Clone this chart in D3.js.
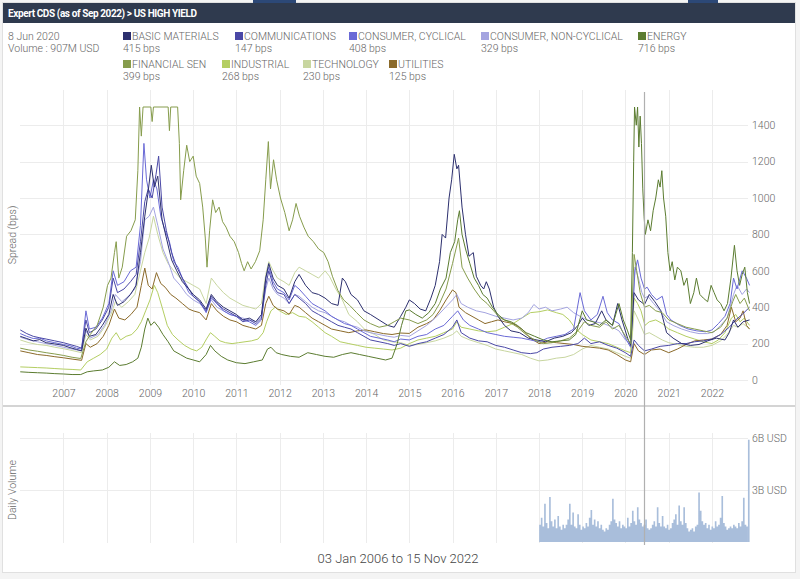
<!DOCTYPE html>
<html><head><meta charset="utf-8">
<script src="https://cdn.jsdelivr.net/npm/d3@7"></script>
<style>
html,body{margin:0;padding:0;background:#fff;}
svg{display:block;font-family:Roboto,"Open Sans",sans-serif;}
.lt{font-weight:300;}
</style></head>
<body>
<svg id="chart" width="800" height="579"></svg>
<script>
// ---------- DATA ----------
const seriesNames = ["BASIC MATERIALS","COMMUNICATIONS","CONSUMER, CYCLICAL","CONSUMER, NON-CYCLICAL","ENERGY","FINANCIAL SEN","INDUSTRIAL","TECHNOLOGY","UTILITIES"];
const legendValues = ["415 bps","147 bps","408 bps","329 bps","716 bps","399 bps","268 bps","230 bps","125 bps"];
const seriesColors = ["#2c2f6e","#4a48a6","#6a6ad6","#a4a4e0","#5b7c30","#869c4c","#b4ce62","#c8d6a0","#8b6a2a"];

const BASIC_MATERIALS = [[2006.00,240],[2006.15,228],[2006.30,215],[2006.45,222],[2006.60,205],[2006.80,198],[2007.00,190],[2007.15,178],[2007.30,168],[2007.42,160],[2007.52,285],[2007.60,240],[2007.75,250],[2007.90,300],[2008.05,360],[2008.15,470],[2008.25,410],[2008.40,430],[2008.55,470],[2008.68,520],[2008.78,700],[2008.88,900],[2008.95,1020],[2009.03,1180],[2009.10,1060],[2009.18,1120],[2009.28,880],[2009.38,780],[2009.50,660],[2009.62,600],[2009.75,540],[2009.90,500],[2010.00,470],[2010.15,440],[2010.30,390],[2010.42,470],[2010.55,430],[2010.70,400],[2010.85,380],[2011.00,360],[2011.15,330],[2011.30,340],[2011.45,320],[2011.58,360],[2011.68,560],[2011.75,640],[2011.85,560],[2011.95,520],[2012.10,500],[2012.22,450],[2012.35,540],[2012.45,580],[2012.60,520],[2012.75,480],[2012.90,470],[2013.05,450],[2013.20,420],[2013.35,410],[2013.45,560],[2013.52,540],[2013.65,470],[2013.80,440],[2013.95,380],[2014.10,360],[2014.30,330],[2014.50,300],[2014.65,290],[2014.80,350],[2014.92,400],[2015.00,440],[2015.12,420],[2015.25,390],[2015.38,380],[2015.50,450],[2015.60,520],[2015.70,650],[2015.76,800],[2015.84,780],[2015.92,1000],[2015.98,1100],[2016.04,1240],[2016.10,1160],[2016.14,1180],[2016.22,950],[2016.30,800],[2016.38,680],[2016.48,700],[2016.55,570],[2016.65,520],[2016.72,500],[2016.78,540],[2016.85,500],[2016.95,400],[2017.05,350],[2017.20,300],[2017.35,270],[2017.55,260],[2017.75,230],[2017.95,220],[2018.15,210],[2018.35,230],[2018.55,240],[2018.75,260],[2018.90,300],[2019.00,340],[2019.15,300],[2019.30,310],[2019.45,380],[2019.55,330],[2019.70,300],[2019.82,420],[2019.92,330],[2020.05,230],[2020.12,190],[2020.20,480],[2020.30,440],[2020.44,415],[2020.55,470],[2020.68,430],[2020.82,380],[2020.95,260],[2021.10,230],[2021.30,200],[2021.50,190],[2021.70,195],[2021.90,215],[2022.10,230],[2022.30,220],[2022.40,260],[2022.50,330],[2022.60,290],[2022.72,320],[2022.87,330]];

const COMMUNICATIONS = [[2006.00,275],[2006.15,255],[2006.30,240],[2006.45,232],[2006.60,225],[2006.80,215],[2007.00,205],[2007.15,195],[2007.30,185],[2007.42,175],[2007.52,330],[2007.60,260],[2007.75,280],[2007.90,330],[2008.05,400],[2008.15,560],[2008.25,480],[2008.40,500],[2008.55,540],[2008.68,580],[2008.78,760],[2008.88,980],[2008.96,1050],[2009.05,1000],[2009.14,1130],[2009.20,1230],[2009.28,950],[2009.38,820],[2009.50,700],[2009.62,620],[2009.75,560],[2009.90,500],[2010.00,460],[2010.15,430],[2010.30,380],[2010.42,460],[2010.55,420],[2010.70,390],[2010.85,370],[2011.00,350],[2011.15,320],[2011.30,330],[2011.45,310],[2011.58,340],[2011.68,520],[2011.75,600],[2011.85,520],[2011.95,480],[2012.10,470],[2012.22,420],[2012.35,470],[2012.45,450],[2012.60,420],[2012.75,380],[2012.90,360],[2013.05,340],[2013.20,320],[2013.35,300],[2013.50,290],[2013.65,280],[2013.80,260],[2013.95,240],[2014.10,220],[2014.30,210],[2014.50,200],[2014.65,190],[2014.80,200],[2015.00,185],[2015.20,200],[2015.40,210],[2015.60,230],[2015.80,250],[2016.00,290],[2016.10,330],[2016.20,260],[2016.40,230],[2016.60,215],[2016.80,210],[2017.00,190],[2017.20,180],[2017.40,165],[2017.60,150],[2017.80,145],[2017.95,150],[2018.10,170],[2018.30,180],[2018.50,185],[2018.70,190],[2018.90,200],[2019.05,230],[2019.20,200],[2019.40,210],[2019.60,190],[2019.80,175],[2020.00,150],[2020.12,130],[2020.20,220],[2020.30,190],[2020.44,160],[2020.60,170],[2020.80,185],[2021.00,190],[2021.20,200],[2021.40,200],[2021.60,210],[2021.80,215],[2022.00,225],[2022.20,250],[2022.40,290],[2022.55,330],[2022.70,360],[2022.87,400]];

const CONSUMER_CYCLICAL = [[2006.00,255],[2006.15,240],[2006.30,228],[2006.45,230],[2006.60,215],[2006.80,205],[2007.00,195],[2007.15,188],[2007.30,175],[2007.42,170],[2007.52,380],[2007.60,280],[2007.75,290],[2007.90,340],[2008.05,420],[2008.15,600],[2008.25,520],[2008.40,540],[2008.55,600],[2008.68,620],[2008.78,850],[2008.86,1300],[2008.92,1100],[2009.00,1000],[2009.08,1100],[2009.16,1050],[2009.25,900],[2009.35,820],[2009.45,760],[2009.55,650],[2009.65,620],[2009.78,540],[2009.90,480],[2010.00,460],[2010.15,430],[2010.30,370],[2010.42,450],[2010.55,420],[2010.70,380],[2010.85,360],[2011.00,350],[2011.15,330],[2011.30,320],[2011.45,300],[2011.58,330],[2011.68,560],[2011.75,620],[2011.85,540],[2011.95,500],[2012.10,480],[2012.22,440],[2012.35,520],[2012.45,500],[2012.60,460],[2012.75,420],[2012.90,400],[2013.05,380],[2013.20,350],[2013.35,330],[2013.50,310],[2013.65,300],[2013.80,280],[2013.95,260],[2014.10,240],[2014.30,230],[2014.50,220],[2014.65,210],[2014.80,225],[2015.00,220],[2015.20,240],[2015.40,250],[2015.60,280],[2015.80,300],[2016.00,350],[2016.12,380],[2016.25,330],[2016.40,300],[2016.60,280],[2016.80,260],[2017.00,250],[2017.20,240],[2017.40,235],[2017.60,230],[2017.80,220],[2018.00,210],[2018.20,230],[2018.40,240],[2018.60,250],[2018.80,280],[2018.95,480],[2019.05,380],[2019.20,330],[2019.35,360],[2019.48,460],[2019.58,370],[2019.70,330],[2019.85,310],[2020.00,230],[2020.12,180],[2020.22,600],[2020.28,660],[2020.36,560],[2020.44,500],[2020.50,510],[2020.60,470],[2020.72,440],[2020.85,460],[2020.95,360],[2021.05,330],[2021.25,300],[2021.45,280],[2021.65,270],[2021.85,265],[2022.00,275],[2022.15,310],[2022.30,350],[2022.42,420],[2022.50,560],[2022.58,500],[2022.70,600],[2022.80,560],[2022.87,520]];

const CONSUMER_NON_CYCLICAL = [[2006.00,235],[2006.20,220],[2006.40,210],[2006.60,200],[2006.80,190],[2007.00,180],[2007.20,170],[2007.42,160],[2007.52,270],[2007.62,230],[2007.80,250],[2007.95,300],[2008.10,380],[2008.20,470],[2008.35,430],[2008.50,460],[2008.65,500],[2008.78,650],[2008.88,880],[2008.98,900],[2009.08,950],[2009.18,850],[2009.30,720],[2009.42,650],[2009.55,560],[2009.70,520],[2009.85,470],[2010.00,440],[2010.15,420],[2010.30,380],[2010.42,440],[2010.55,400],[2010.70,380],[2010.85,360],[2011.00,350],[2011.15,340],[2011.30,330],[2011.45,320],[2011.58,350],[2011.68,500],[2011.75,560],[2011.85,500],[2011.95,470],[2012.10,450],[2012.22,420],[2012.35,470],[2012.45,460],[2012.60,430],[2012.75,400],[2012.90,380],[2013.05,370],[2013.20,350],[2013.35,330],[2013.50,320],[2013.65,300],[2013.80,290],[2013.95,270],[2014.10,260],[2014.30,250],[2014.50,240],[2014.65,235],[2014.80,245],[2015.00,240],[2015.20,270],[2015.40,300],[2015.60,340],[2015.80,390],[2016.00,440],[2016.10,470],[2016.20,420],[2016.35,400],[2016.55,380],[2016.75,370],[2017.00,350],[2017.20,340],[2017.40,330],[2017.60,340],[2017.75,370],[2017.88,415],[2018.00,390],[2018.15,400],[2018.30,380],[2018.50,390],[2018.65,400],[2018.80,370],[2018.95,350],[2019.10,330],[2019.30,320],[2019.50,310],[2019.70,290],[2019.85,270],[2020.00,220],[2020.12,200],[2020.22,620],[2020.30,560],[2020.38,480],[2020.44,450],[2020.52,460],[2020.65,420],[2020.80,380],[2020.95,320],[2021.10,300],[2021.30,280],[2021.50,265],[2021.70,255],[2021.90,255],[2022.05,265],[2022.20,300],[2022.35,340],[2022.50,470],[2022.58,520],[2022.70,470],[2022.80,500],[2022.87,480]];

const ENERGY = [[2006.00,45],[2006.20,42],[2006.40,40],[2006.60,38],[2006.80,35],[2007.00,33],[2007.20,30],[2007.40,30],[2007.55,45],[2007.70,50],[2007.90,55],[2008.05,70],[2008.18,100],[2008.30,80],[2008.45,85],[2008.60,100],[2008.72,120],[2008.80,180],[2008.88,280],[2008.95,340],[2009.02,300],[2009.10,320],[2009.20,290],[2009.30,250],[2009.42,210],[2009.55,160],[2009.70,140],[2009.85,120],[2010.00,110],[2010.15,100],[2010.30,140],[2010.40,190],[2010.50,160],[2010.65,130],[2010.80,110],[2011.00,95],[2011.20,90],[2011.40,100],[2011.60,110],[2011.72,170],[2011.80,180],[2011.92,150],[2012.05,140],[2012.25,130],[2012.45,125],[2012.65,150],[2012.85,140],[2013.05,130],[2013.25,125],[2013.45,140],[2013.65,150],[2013.85,140],[2014.05,130],[2014.25,120],[2014.45,110],[2014.60,120],[2014.72,200],[2014.82,300],[2014.92,380],[2015.00,385],[2015.15,360],[2015.30,340],[2015.45,370],[2015.60,420],[2015.72,500],[2015.85,560],[2015.95,700],[2016.05,760],[2016.12,880],[2016.16,930],[2016.22,800],[2016.30,720],[2016.40,640],[2016.50,560],[2016.60,520],[2016.70,470],[2016.80,450],[2016.92,400],[2017.05,360],[2017.20,330],[2017.35,320],[2017.50,300],[2017.70,260],[2017.90,240],[2018.10,220],[2018.30,210],[2018.50,215],[2018.70,220],[2018.85,250],[2019.00,380],[2019.10,330],[2019.25,320],[2019.40,300],[2019.55,330],[2019.70,300],[2019.85,420],[2019.95,330],[2020.05,270],[2020.12,220],[2020.16,700],[2020.19,1200],[2020.21,1500],[2020.25,1400],[2020.28,1500],[2020.31,1280],[2020.34,1450],[2020.37,1300],[2020.40,1050],[2020.43,900],[2020.46,800],[2020.52,880],[2020.58,820],[2020.64,930],[2020.70,1000],[2020.76,1100],[2020.80,1060],[2020.84,1150],[2020.88,1000],[2020.93,900],[2020.98,700],[2021.03,600],[2021.08,650],[2021.14,550],[2021.20,620],[2021.28,600],[2021.35,520],[2021.42,560],[2021.50,420],[2021.58,480],[2021.64,560],[2021.72,470],[2021.80,450],[2021.90,430],[2021.98,520],[2022.05,480],[2022.12,440],[2022.20,420],[2022.28,380],[2022.36,420],[2022.44,560],[2022.52,740],[2022.58,600],[2022.64,520],[2022.70,580],[2022.76,620],[2022.82,480],[2022.87,420]];

const FINANCIAL = [[2006.00,175],[2006.20,165],[2006.40,158],[2006.60,150],[2006.80,143],[2007.00,135],[2007.20,125],[2007.40,118],[2007.52,210],[2007.62,250],[2007.78,300],[2007.92,400],[2008.02,520],[2008.10,560],[2008.18,700],[2008.22,760],[2008.28,560],[2008.36,620],[2008.46,790],[2008.56,820],[2008.66,880],[2008.72,1150],[2008.76,1500],[2008.80,1340],[2008.84,1500],[2009.02,1500],[2009.05,1420],[2009.08,1500],[2009.42,1500],[2009.45,1370],[2009.48,1500],[2009.64,1500],[2009.68,1300],[2009.71,990],[2009.78,1150],[2009.85,1290],[2009.92,1200],[2010.00,1230],[2010.07,1120],[2010.15,1080],[2010.22,950],[2010.28,780],[2010.32,620],[2010.38,820],[2010.45,990],[2010.52,920],[2010.60,950],[2010.68,870],[2010.76,840],[2010.85,790],[2010.95,760],[2011.05,700],[2011.12,640],[2011.18,600],[2011.26,650],[2011.34,610],[2011.44,650],[2011.54,710],[2011.62,880],[2011.68,1100],[2011.74,1310],[2011.79,1050],[2011.86,1210],[2011.93,1100],[2012.02,1000],[2012.12,920],[2012.22,820],[2012.30,880],[2012.38,970],[2012.46,900],[2012.56,840],[2012.66,790],[2012.78,760],[2012.90,720],[2013.02,700],[2013.12,650],[2013.22,570],[2013.35,490],[2013.48,440],[2013.62,410],[2013.78,370],[2013.95,330],[2014.10,310],[2014.30,290],[2014.50,300],[2014.65,320],[2014.80,340],[2015.00,330],[2015.20,310],[2015.40,330],[2015.55,360],[2015.70,420],[2015.85,500],[2016.00,640],[2016.08,720],[2016.14,780],[2016.22,620],[2016.35,560],[2016.50,500],[2016.65,450],[2016.80,420],[2016.95,380],[2017.10,340],[2017.30,320],[2017.50,290],[2017.70,250],[2017.90,220],[2018.10,200],[2018.30,205],[2018.50,215],[2018.70,230],[2018.90,270],[2019.05,320],[2019.20,300],[2019.40,290],[2019.55,320],[2019.70,280],[2019.85,300],[2020.00,240],[2020.12,200],[2020.20,690],[2020.26,600],[2020.34,480],[2020.44,400],[2020.55,410],[2020.70,380],[2020.85,370],[2021.00,330],[2021.20,310],[2021.40,290],[2021.60,280],[2021.80,270],[2022.00,260],[2022.20,290],[2022.35,340],[2022.48,430],[2022.55,470],[2022.65,420],[2022.75,450],[2022.87,380]];

const INDUSTRIAL = [[2006.00,72],[2006.20,70],[2006.40,68],[2006.60,66],[2006.80,63],[2007.00,60],[2007.20,58],[2007.40,55],[2007.55,100],[2007.70,120],[2007.85,140],[2008.00,170],[2008.12,230],[2008.22,260],[2008.32,220],[2008.45,240],[2008.58,250],[2008.70,280],[2008.80,320],[2008.90,380],[2009.00,440],[2009.10,520],[2009.18,480],[2009.28,400],[2009.40,300],[2009.52,250],[2009.65,220],[2009.80,190],[2009.95,170],[2010.08,160],[2010.20,180],[2010.32,230],[2010.40,260],[2010.50,240],[2010.62,215],[2010.75,205],[2010.90,200],[2011.05,205],[2011.20,210],[2011.35,215],[2011.50,225],[2011.62,260],[2011.70,320],[2011.80,380],[2011.90,400],[2012.00,380],[2012.15,360],[2012.30,370],[2012.45,350],[2012.60,345],[2012.75,320],[2012.90,290],[2013.05,260],[2013.20,240],[2013.40,210],[2013.60,200],[2013.80,190],[2014.00,180],[2014.20,175],[2014.40,170],[2014.60,165],[2014.80,175],[2015.00,200],[2015.20,220],[2015.40,230],[2015.60,240],[2015.80,260],[2016.00,280],[2016.10,320],[2016.20,290],[2016.40,280],[2016.60,270],[2016.80,265],[2017.00,270],[2017.20,290],[2017.40,310],[2017.60,340],[2017.80,370],[2018.00,375],[2018.20,385],[2018.40,370],[2018.55,360],[2018.70,330],[2018.85,280],[2019.00,250],[2019.20,220],[2019.40,210],[2019.60,200],[2019.80,180],[2020.00,160],[2020.12,150],[2020.20,450],[2020.28,420],[2020.36,380],[2020.45,300],[2020.55,320],[2020.70,330],[2020.85,310],[2021.00,280],[2021.20,260],[2021.40,240],[2021.60,225],[2021.80,210],[2022.00,200],[2022.15,220],[2022.30,260],[2022.45,340],[2022.55,360],[2022.65,320],[2022.75,340],[2022.87,300]];

const TECHNOLOGY = [[2006.00,220],[2006.20,205],[2006.40,195],[2006.60,190],[2006.80,180],[2007.00,172],[2007.20,162],[2007.42,150],[2007.52,250],[2007.62,220],[2007.80,240],[2007.95,290],[2008.10,360],[2008.20,430],[2008.35,400],[2008.50,430],[2008.65,470],[2008.78,600],[2008.88,700],[2008.98,780],[2009.08,900],[2009.18,800],[2009.30,700],[2009.42,640],[2009.55,600],[2009.70,560],[2009.85,540],[2010.00,520],[2010.15,500],[2010.30,420],[2010.42,560],[2010.55,520],[2010.70,480],[2010.85,450],[2011.00,430],[2011.15,410],[2011.30,400],[2011.45,390],[2011.58,420],[2011.68,580],[2011.75,650],[2011.85,600],[2011.95,560],[2012.10,540],[2012.22,520],[2012.35,590],[2012.45,620],[2012.60,600],[2012.75,580],[2012.90,560],[2013.05,600],[2013.15,570],[2013.30,500],[2013.45,440],[2013.60,360],[2013.80,320],[2014.00,270],[2014.20,250],[2014.40,220],[2014.60,210],[2014.80,205],[2015.00,190],[2015.20,195],[2015.40,205],[2015.60,215],[2015.80,230],[2016.00,250],[2016.10,270],[2016.20,240],[2016.40,220],[2016.60,205],[2016.80,190],[2017.00,170],[2017.20,160],[2017.40,150],[2017.60,140],[2017.80,120],[2018.00,105],[2018.20,110],[2018.40,120],[2018.60,125],[2018.80,140],[2019.00,170],[2019.20,190],[2019.40,180],[2019.60,170],[2019.80,150],[2020.00,130],[2020.12,120],[2020.20,380],[2020.30,330],[2020.44,250],[2020.55,260],[2020.70,240],[2020.85,220],[2021.00,205],[2021.20,195],[2021.40,185],[2021.60,180],[2021.80,180],[2022.00,190],[2022.20,215],[2022.35,250],[2022.50,300],[2022.60,290],[2022.72,310],[2022.87,280]];

const UTILITIES = [[2006.00,160],[2006.20,150],[2006.40,140],[2006.60,135],[2006.80,128],[2007.00,122],[2007.20,115],[2007.42,108],[2007.52,200],[2007.62,180],[2007.78,200],[2007.92,240],[2008.05,300],[2008.18,390],[2008.28,340],[2008.42,330],[2008.56,360],[2008.70,400],[2008.80,520],[2008.88,615],[2008.96,520],[2009.05,500],[2009.15,590],[2009.25,530],[2009.35,510],[2009.48,470],[2009.60,450],[2009.75,420],[2009.90,390],[2010.00,380],[2010.15,370],[2010.30,330],[2010.42,420],[2010.55,380],[2010.70,350],[2010.85,330],[2011.00,320],[2011.15,300],[2011.30,290],[2011.45,280],[2011.58,300],[2011.68,420],[2011.75,460],[2011.85,410],[2011.95,390],[2012.10,380],[2012.22,360],[2012.35,410],[2012.45,400],[2012.60,370],[2012.75,340],[2012.90,320],[2013.05,300],[2013.20,280],[2013.40,270],[2013.60,260],[2013.80,270],[2014.00,275],[2014.20,265],[2014.40,255],[2014.60,250],[2014.80,258],[2015.00,256],[2015.20,290],[2015.40,310],[2015.55,330],[2015.70,380],[2015.85,440],[2016.00,495],[2016.08,480],[2016.15,400],[2016.30,370],[2016.45,350],[2016.60,330],[2016.75,310],[2016.90,320],[2017.05,330],[2017.20,320],[2017.40,310],[2017.60,280],[2017.80,230],[2018.00,200],[2018.20,210],[2018.40,205],[2018.60,200],[2018.80,195],[2019.00,185],[2019.20,180],[2019.40,175],[2019.60,165],[2019.80,140],[2020.00,110],[2020.12,100],[2020.20,200],[2020.30,160],[2020.44,140],[2020.60,165],[2020.80,170],[2021.00,150],[2021.20,170],[2021.40,195],[2021.60,215],[2021.80,220],[2022.00,225],[2022.20,250],[2022.35,300],[2022.45,400],[2022.55,320],[2022.65,340],[2022.72,380],[2022.80,300],[2022.87,280]];

// Daily volume (billions USD), biweekly samples from Jan 2018
const volumeStart = "2018-01-02";
const volumeEnd = "2022-11-15";
const volumeB = [1.0,1.4,0.9,2.2,1.1,0.8,2.6,1.2,0.9,1.3,0.8,1.5,0.9,0.7,1.0,0.8,1.0,1.3,2.2,1.0,1.7,0.9,0.8,1.6,1.0,0.7,0.9,0.8,1.1,0.9,1.4,1.85,1.0,1.3,0.9,1.2,0.8,1.0,0.7,0.6,0.8,0.7,1.0,1.2,2.5,1.3,1.1,0.9,1.2,0.8,1.0,0.9,0.8,1.4,0.9,1.1,1.8,1.2,1.0,2.0,1.3,1.1,0.9,1.0,1.3,0.8,0.7,0.8,1.0,1.2,0.9,2.0,1.1,0.9,1.5,0.9,0.8,1.0,0.7,0.8,1.1,1.3,1.6,1.0,2.1,1.2,1.0,2.0,1.1,0.8,0.6,0.7,0.8,0.6,0.9,1.0,2.85,1.8,1.2,1.0,1.1,0.8,1.0,0.7,0.9,0.8,1.2,0.9,1.0,1.4,2.65,1.1,0.9,0.7,0.8,0.9,0.8,1.0,0.9,0.8,1.1,0.9,1.2,2.55,1.0,0.9,5.9];

const yTicks = [0,200,400,600,800,1000,1200,1400];
const xTickYears = [2007,2008,2009,2010,2011,2012,2013,2014,2015,2016,2017,2018,2019,2020,2021,2022];
const volTicks = [3,6];
const volTickLabels = ["3B USD","6B USD"];
const crosshairDate = "2020-06-08";

// ---------- HELPERS ----------
function fy(t){ const y=Math.floor(t); const a=new Date(y,0,1), b=new Date(y+1,0,1); return new Date(+a + (t-y)*(b-a)); }
const allSeries = [BASIC_MATERIALS,COMMUNICATIONS,CONSUMER_CYCLICAL,CONSUMER_NON_CYCLICAL,ENERGY,FINANCIAL,INDUSTRIAL,TECHNOLOGY,UTILITIES];
const parse = d3.timeParse("%Y-%m-%d");

// ---------- SVG ----------
const svg = d3.select("#chart");
const W=800,H=579;
const TXT="#666";

svg.append("rect").attr("x",0).attr("y",0).attr("width",W).attr("height",H).attr("fill","#f4f4f4");
svg.append("rect").attr("x",2.5).attr("y",2.5).attr("width",793).attr("height",570).attr("fill","#fff").attr("stroke","#e0e0e0");
svg.append("rect").attr("x",253).attr("y",0).attr("width",43).attr("height",3).attr("fill","#2c4877");
svg.append("rect").attr("x",688).attr("y",0).attr("width",30).attr("height",3).attr("fill","#2c4877");
svg.append("rect").attr("x",3).attr("y",3).attr("width",792).attr("height",20).attr("fill","#2f3a4e");
svg.append("text").attr("x",8).attr("y",17).attr("fill","#fff").attr("font-size",10).attr("font-weight","bold").attr("letter-spacing","-0.4")
  .text("Expert CDS (as of Sep 2022) > US HIGH YIELD");

svg.append("text").attr("class","lt").attr("x",8).attr("y",40).attr("fill",TXT).attr("font-size",10.5).text("8 Jun 2020");
svg.append("text").attr("class","lt").attr("x",8).attr("y",52).attr("fill",TXT).attr("font-size",10.5).text("Volume : 907M USD");

const legendPos = [[123,32],[235,32],[349,32],[481,32],[638,32],[123,60],[222,60],[303,60],[389,60]];
const lg = svg.append("g");
seriesNames.forEach((n,i)=>{
  const [lx,ly]=legendPos[i];
  lg.append("rect").attr("x",lx).attr("y",ly).attr("width",8).attr("height",8).attr("fill",seriesColors[i]);
  lg.append("text").attr("class","lt").attr("x",lx+9).attr("y",ly+8).attr("fill",TXT).attr("font-size",10.5).text(n);
  lg.append("text").attr("class","lt").attr("x",lx).attr("y",ly+20).attr("fill",TXT).attr("font-size",10.5).text(legendValues[i]);
});

const x = d3.scaleTime().domain([new Date(2006,0,3), new Date(2022,10,15)]).range([20.5,749.6]);
const y = d3.scaleLinear().domain([0,1500]).range([380,107]);
const yv = d3.scaleLinear().domain([0,6]).range([542,438]);

const grid = svg.append("g").attr("stroke","#ececec").attr("stroke-width",1);
xTickYears.forEach(yr=>{
  const gx=Math.round(x(new Date(yr,0,1)))+0.5;
  grid.append("line").attr("x1",gx).attr("x2",gx).attr("y1",90).attr("y2",385);
  grid.append("line").attr("x1",gx).attr("x2",gx).attr("y1",433).attr("y2",543);
});
yTicks.forEach(v=>{
  const gy=Math.round(y(v))+0.5;
  grid.append("line").attr("x1",20).attr("x2",748).attr("y1",gy).attr("y2",gy);
});
volTicks.forEach(v=>{
  const gy=Math.round(yv(v))+0.5;
  grid.append("line").attr("x1",20).attr("x2",748).attr("y1",gy).attr("y2",gy);
});

function styleAxis(g){
  g.select(".domain").remove();
  g.selectAll("text").attr("fill",TXT).attr("font-size",10.5).attr("font-family","Roboto,sans-serif").attr("font-weight",300);
}
svg.append("g").attr("transform","translate(752,0)")
  .call(d3.axisRight(y).tickValues(yTicks).tickSize(0).tickPadding(0).tickFormat(d3.format("d"))).call(styleAxis);
svg.append("g").attr("transform","translate(0,390)")
  .call(d3.axisBottom(x).tickValues(xTickYears.map(yr=>new Date(yr,0,1))).tickSize(0).tickPadding(0).tickFormat(d3.timeFormat("%Y"))).call(styleAxis);
svg.append("g").attr("transform","translate(752,0)")
  .call(d3.axisRight(yv).tickValues(volTicks).tickSize(0).tickPadding(0).tickFormat((d,i)=>volTickLabels[i])).call(styleAxis);

svg.append("line").attr("x1",3).attr("x2",795).attr("y1",406).attr("y2",406).attr("stroke","#d4d4d4").attr("stroke-width",2);

svg.append("text").attr("class","lt").attr("transform","translate(16,235) rotate(-90)").attr("text-anchor","middle").attr("fill",TXT).attr("font-size",10.5).text("Spread (bps)");
svg.append("text").attr("class","lt").attr("transform","translate(16,490) rotate(-90)").attr("text-anchor","middle").attr("fill",TXT).attr("font-size",10.5).text("Daily Volume");

// spread lines
const line = d3.line().x(d=>x(fy(d[0]))).y(d=>y(Math.min(d[1],1500)));
const drawOrder = [7,6,8,3,2,1,0,5,4];
const lines = svg.append("g").attr("fill","none").attr("stroke-width",1).attr("stroke-linejoin","round");
drawOrder.forEach(i=>{
  lines.append("path").datum(allSeries[i]).attr("d",line).attr("stroke",seriesColors[i]);
});

// volume as stepped area
const vStart = parse(volumeStart);
const volData = volumeB.map((v,i)=>({d:d3.timeDay.offset(vStart,i*14), v}));
const volArea = d3.area().curve(d3.curveStepAfter).x(d=>x(d.d)).y0(yv(0)).y1(d=>yv(d.v));
svg.append("path").datum(volData.slice(0,-1).concat([{d:volData[volData.length-1].d, v:volumeB[volumeB.length-2]}]))
  .attr("d",volArea).attr("fill","#a9bedb");
// final spike bar
const last = volData[volData.length-1];
svg.append("rect").attr("x",x(last.d)).attr("width",Math.max(1.5, x(parse(volumeEnd))-x(last.d)))
  .attr("y",yv(last.v)).attr("height",yv(0)-yv(last.v)).attr("fill","#a9bedb");

// crosshair
const cx = Math.round(x(parse(crosshairDate)))+0.5;
svg.append("line").attr("x1",cx).attr("x2",cx).attr("y1",92).attr("y2",545).attr("stroke","#b0b0b0").attr("stroke-width",1.2);

svg.append("text").attr("class","lt").attr("x",398).attr("y",563).attr("text-anchor","middle").attr("fill","#444").attr("font-size",13).text("03 Jan 2006 to 15 Nov 2022");
</script>
</body></html>
